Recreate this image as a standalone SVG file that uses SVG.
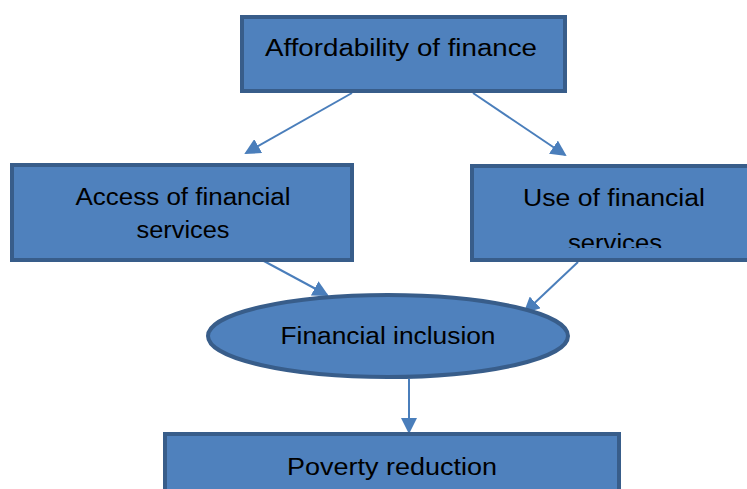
<svg xmlns="http://www.w3.org/2000/svg" width="747" height="489" viewBox="0 0 747 489">
<style>
.box{fill:#4f81bd;stroke:#385d8a;stroke-width:4}
.t{font-family:"Liberation Sans",Arial,sans-serif;font-size:23px;fill:#000}
.c{stroke:#4a7ebb;stroke-width:2;fill:none;marker-end:url(#ah)}
</style>
<defs>
<marker id="ah" markerWidth="8" markerHeight="8" refX="7" refY="4" orient="auto" markerUnits="strokeWidth">
<path d="M0,0 L8,4 L0,8 Z" fill="#4a7ebb"/>
</marker>
<clipPath id="rc"><rect x="470" y="164" width="277" height="84"/></clipPath>
</defs>
<rect width="747" height="489" fill="#fff"/>
<g id="connectors">
<line class="c" x1="352" y1="93" x2="246" y2="153"/>
<line class="c" x1="473" y1="93" x2="565" y2="155"/>
<line class="c" x1="262" y1="260" x2="327" y2="295"/>
<line class="c" x1="578" y1="262" x2="525" y2="312"/>
<line class="c" x1="409" y1="379" x2="409" y2="432"/>
</g>
<g id="affordability">
<rect class="box" x="242" y="17" width="323" height="74"/>
<text class="t" x="401" y="56" text-anchor="middle" textLength="272" lengthAdjust="spacingAndGlyphs">Affordability of finance</text>
</g>
<g id="access">
<rect class="box" x="12" y="165" width="340" height="95"/>
<text class="t" x="183" y="205" text-anchor="middle" textLength="215" lengthAdjust="spacingAndGlyphs">Access of financial</text>
<text class="t" x="183" y="238" text-anchor="middle" textLength="93" lengthAdjust="spacingAndGlyphs">services</text>
</g>
<g id="use">
<rect class="box" x="472" y="166" width="290" height="94"/>
<text class="t" x="614" y="206" text-anchor="middle" textLength="182" lengthAdjust="spacingAndGlyphs">Use of financial</text>
<text class="t" x="615" y="251" text-anchor="middle" textLength="94" lengthAdjust="spacingAndGlyphs" clip-path="url(#rc)">services</text>
</g>
<g id="inclusion">
<ellipse class="box" cx="388" cy="336" rx="180" ry="41"/>
<text class="t" x="388" y="344" text-anchor="middle" textLength="215" lengthAdjust="spacingAndGlyphs">Financial inclusion</text>
</g>
<g id="poverty">
<rect class="box" x="165" y="434" width="454" height="70"/>
<text class="t" x="392" y="475" text-anchor="middle" textLength="210" lengthAdjust="spacingAndGlyphs">Poverty reduction</text>
</g>
</svg>
